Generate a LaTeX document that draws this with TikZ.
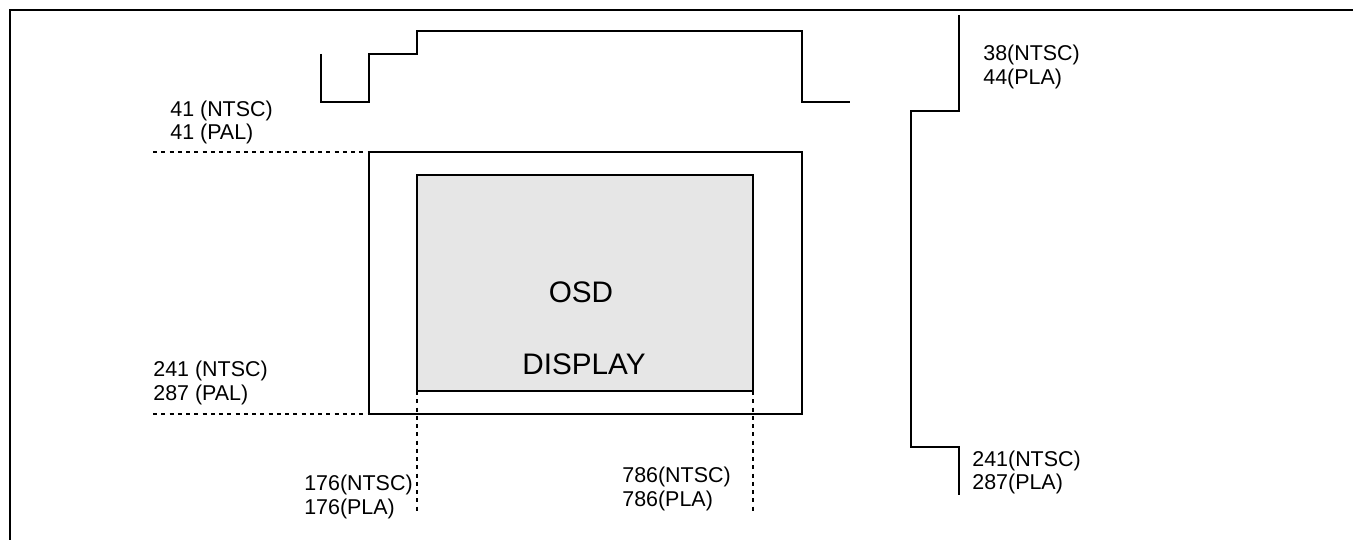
\documentclass[tikz,border=0pt]{standalone}
\usepackage{fontspec}
\setmainfont{Liberation Sans}
\usetikzlibrary{positioning}
\definecolor{osdgrey}{HTML}{E6E6E6}

\begin{document}
\begin{tikzpicture}[
  x=0.02cm, y=-0.02cm,
  wave/.style={line width=1.5pt, line join=miter},
  guide/.style={line width=1.5pt, dash pattern=on 2.3pt off 2.4pt},
  lbl/.style={font=\fontsize{12.2}{13.6}\selectfont, inner sep=0pt, anchor=base west},
  lblr/.style={lbl, anchor=base east},
  osdtext/.style={font=\fontsize{16.9}{20}\selectfont, inner sep=0pt, anchor=base}
]
\useasboundingbox (0,0) rectangle (1353,540);

% outer frame (left and top edge only)
\draw[wave] (10,540) -- (10,10) -- (1353,10);

% horizontal sync waveform
\draw[wave] (321,54) -- (321,102) -- (369,102) -- (369,54) -- (417,54) -- (417,31)
  -- (802,31) -- (802,102) -- (850,102);

% vertical sync waveform
\draw[wave] (959,15) -- (959,111) -- (911,111) -- (911,447) -- (959,447) -- (959,495);

% active video area and OSD window
\coordinate (videoTL) at (369,152);
\coordinate (videoBR) at (802,414);
\coordinate (osdTL) at (417,175);
\coordinate (osdBR) at (753,391);
\draw[wave] (videoTL) rectangle (videoBR);
\draw[wave, fill=osdgrey] (osdTL) rectangle (osdBR);
\node[osdtext] (osd) at (581,303) {OSD};
\node[osdtext] (display) at (584,375) {DISPLAY};

% dashed guides
\coordinate (topguide) at (153,152);
\coordinate (botguide) at (153,414);
\coordinate (leftguide) at (417,512);
\coordinate (rightguide) at (753,512);
\draw[guide] (topguide) -- (videoTL);
\draw[guide] (botguide) -- (videoTL |- videoBR);
\draw[guide] (osdTL |- osdBR) -- (leftguide);
\draw[guide] (osdBR) -- (rightguide);

% line numbers
\node[lbl] (topntsc) at (170,117) {41 (NTSC)};
\node[lbl] (toppal) at (170,140) {41 (PAL)};
\node[lbl] (botntsc) at (153,377) {241 (NTSC)};
\node[lbl] (botpal) at (153,401) {287 (PAL)};

% pixel positions
\node[lblr] (leftntsc) at (413,491) {176(NTSC)};
\node[lbl] (leftpla) at (leftntsc.west |- 0,515) {176(PLA)};
\node[lbl] (rightntsc) at (622,483) {786(NTSC)};
\node[lbl] (rightpla) at (622,507) {786(PLA)};

% vertical sync lines
\node[lbl] (vstartntsc) at (983,61) {38(NTSC)};
\node[lbl] (vstartpla) at (983,85) {44(PLA)};
\node[lbl] (vendntsc) at (972,467) {241(NTSC)};
\node[lbl] (vendpla) at (972,490) {287(PLA)};

\end{tikzpicture}
\end{document}
